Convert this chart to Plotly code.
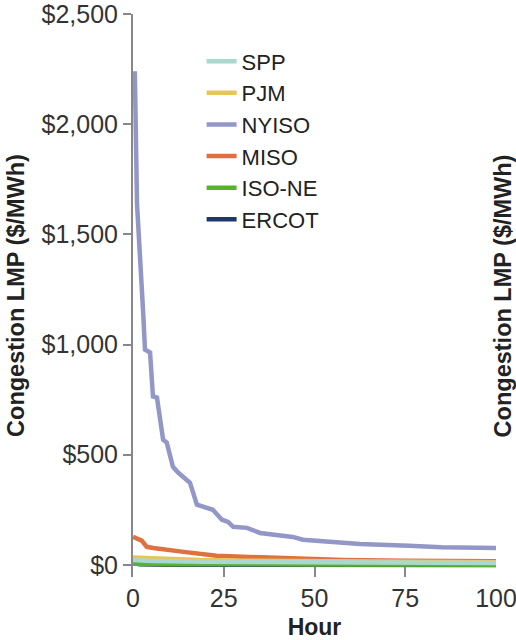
import plotly.graph_objects as go

# Data (price duration curves, top 100 hours)
nyiso_hours = [0.5, 1.1, 2.8, 3.3, 4.7, 5.5, 6.6, 8.3, 9.3, 11, 12.5, 13.8, 15.7, 17.6, 19.3, 22, 24.5, 26.2, 27.6, 31.4, 35, 44, 46.8, 53.4, 62.5, 76, 85, 100]
nyiso_vals = [2240, 1640, 1145, 977, 964, 764, 759, 568, 555, 445, 418, 400, 373, 273, 264, 250, 205, 195, 173, 168, 145, 127, 114, 105, 95, 87, 80, 77]

miso_hours = [0, 2.4, 3.8, 5.6, 14, 18.5, 23, 32, 46, 58, 75, 100]
miso_vals = [127, 110, 82, 77, 59, 50, 41, 36, 27, 22, 19, 16]

pjm_hours = [0, 5, 10, 18.5, 30, 50, 75, 100]
pjm_vals = [34, 30, 25, 22, 19, 16, 14, 12]

spp_hours = [0, 5, 20, 50, 100]
spp_vals = [22, 18, 14, 11, 9]

isone_hours = [0, 10, 50, 100]
isone_vals = [5, 3, 2, 1]

ercot_hours = [0, 2, 10, 100]
ercot_vals = [8, 3, 1, 0]

# (name, hours, values, colour, legend rank) — drawn bottom to top
series = [
    ("ERCOT", ercot_hours, ercot_vals, "#1f3866", 6),
    ("ISO-NE", isone_hours, isone_vals, "#5ab030", 5),
    ("MISO", miso_hours, miso_vals, "#e07040", 4),
    ("NYISO", nyiso_hours, nyiso_vals, "#9397c8", 3),
    ("PJM", pjm_hours, pjm_vals, "#e8c55a", 2),
    ("SPP", spp_hours, spp_vals, "#a8d8d0", 1),
]

y_ticks = [0, 500, 1000, 1500, 2000, 2500]
y_tick_text = ["$0", "$500", "$1,000", "$1,500", "$2,000", "$2,500"]
x_ticks = [0, 25, 50, 75, 100]

fig = go.Figure()
for name, xs, ys, color, rank in series:
    fig.add_trace(go.Scatter(
        x=xs, y=ys, name=name, mode="lines", legendgroup=name, legendrank=rank,
        line=dict(color=color, width=4.5),
    ))

font_family = "Liberation Sans, Arial, sans-serif"

fig.update_layout(
    width=516, height=640,
    margin=dict(l=133, r=20, t=14, b=63, autoexpand=False),
    plot_bgcolor="white", paper_bgcolor="white",
    font=dict(family=font_family, color="#333333"),
    showlegend=True,
    legend=dict(
        x=0.189, y=0.953, xanchor="left", yanchor="top",
        traceorder="grouped", tracegroupgap=0,
        font=dict(size=22, color="#222222"),
        bgcolor="rgba(0,0,0,0)",
    ),
    xaxis=dict(
        range=[0, 100], tickvals=x_ticks, automargin=False, ticklabeloverflow="allow",
        ticklabelstandoff=4,
        showline=False, showgrid=False, zeroline=False,
        ticks="inside", ticklen=10, tickwidth=2, tickcolor="#888888",
        tickfont=dict(size=25, color="#333333"),
        title=dict(text="<b>Hour</b>", font=dict(size=23, color="#222222"), standoff=8),
    ),
    yaxis=dict(
        range=[-55, 2500], tickvals=y_ticks, ticktext=y_tick_text, automargin=False,
        ticklabeloverflow="allow",
        showline=True, linecolor="#888888", linewidth=2,
        showgrid=False, zeroline=False,
        ticks="outside", ticklen=8, tickwidth=2, tickcolor="#888888",
        tickfont=dict(size=25, color="#333333"),
        title=dict(text="<b>Congestion LMP ($/MWh)</b>", font=dict(size=23.5, color="#222222"), standoff=10),
    ),
    annotations=[dict(
        text="<b>Congestion LMP ($/MWh)</b>", textangle=-90,
        xref="paper", yref="paper", x=1.019, y=0.5, xanchor="center", yanchor="middle",
        showarrow=False, font=dict(size=23.5, color="#222222", family=font_family),
    )],
)

fig.write_html(
    "out.html",
    config={"displayModeBar": False},
    post_script="document.body.style.margin='0';document.body.style.overflow='hidden';",
)
